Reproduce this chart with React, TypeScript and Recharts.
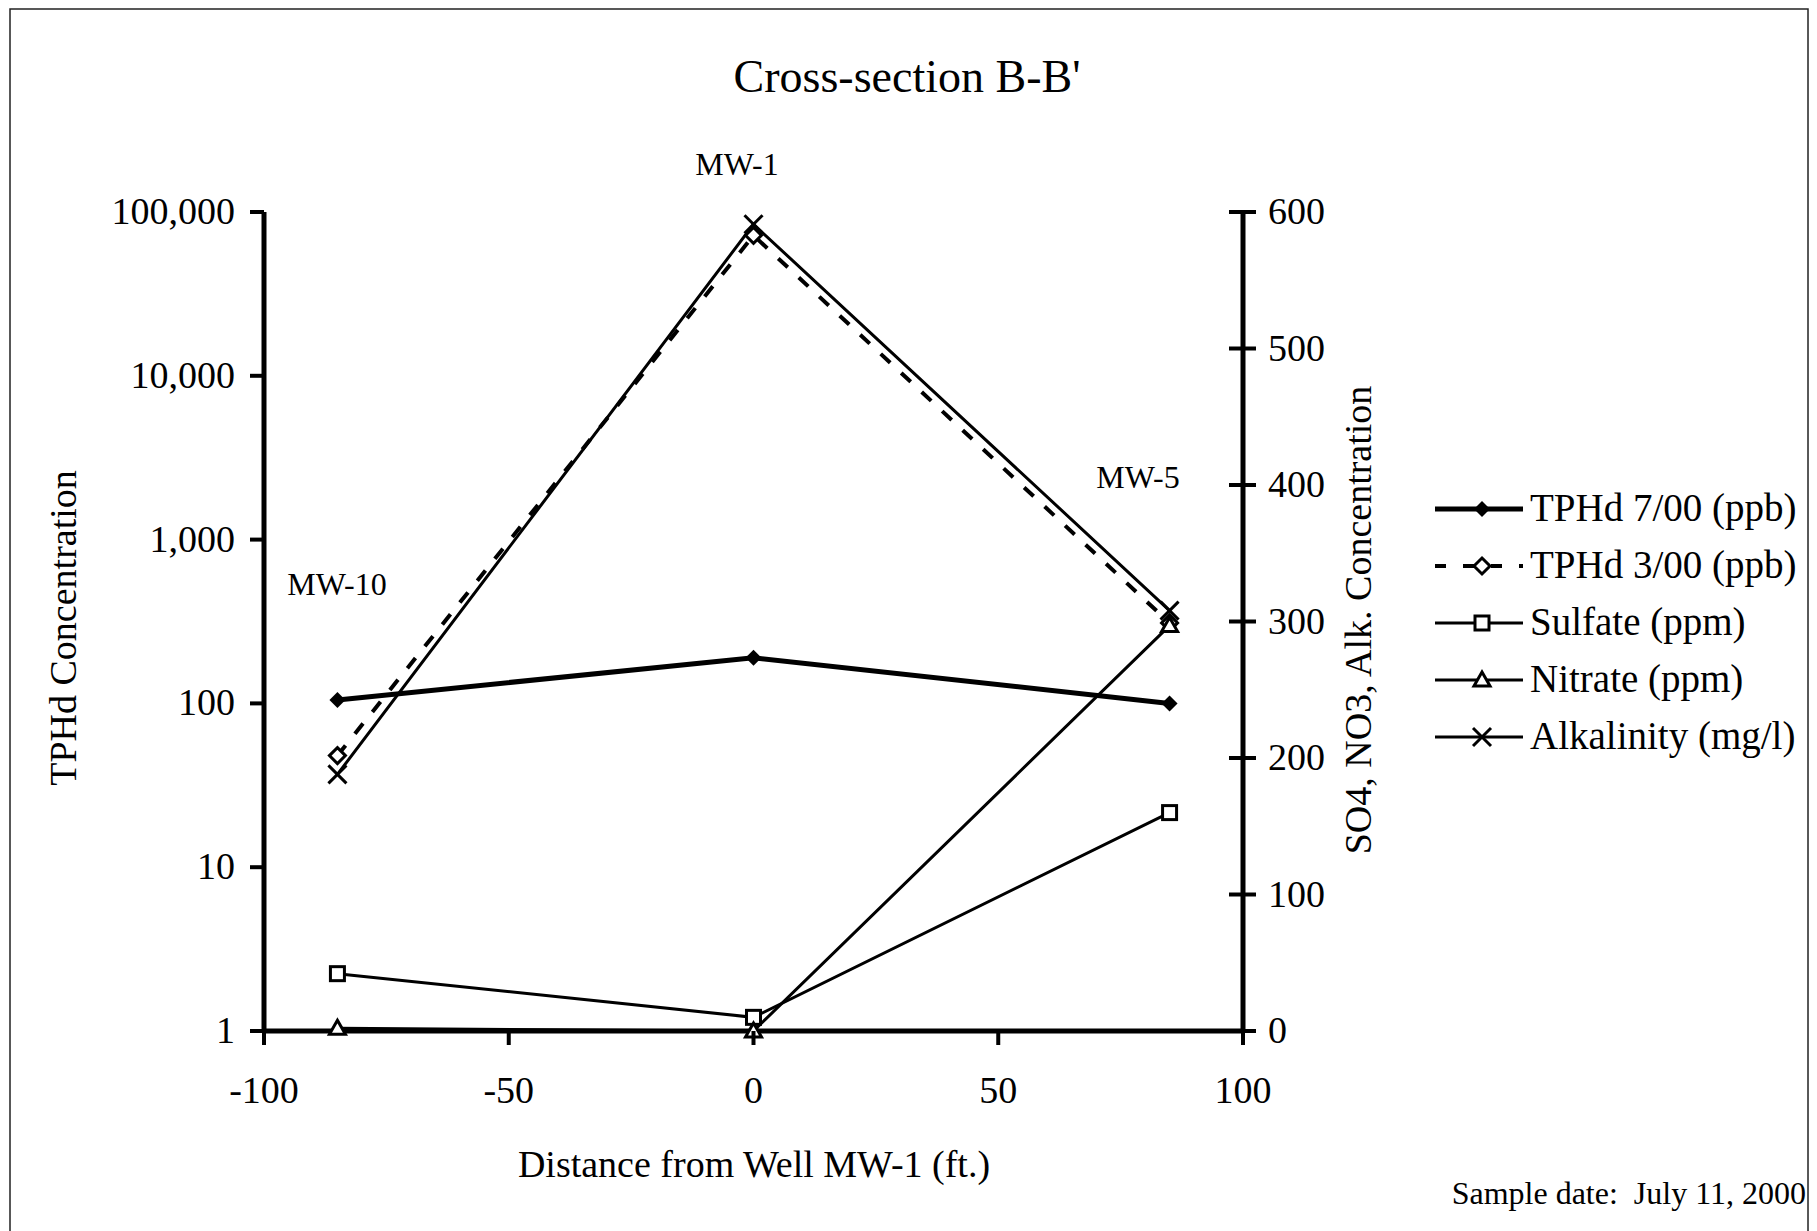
import { ComposedChart, Line, XAxis, YAxis } from 'recharts'

const FONT = '"Liberation Serif", "Times New Roman", serif'

const wells = ['MW-10', 'MW-1', 'MW-5']
const distances = [-85, 0, 85]
const tphdJul = [105, 190, 100]
const tphdMar = [48, 72000, 310]
const sulfate = [42, 10, 160]
const nitrate = [2, 0, 297]
const alkalinity = [188, 591, 308]

const xTicks = [-100, -50, 0, 50, 100]
const leftTicks = [1, 10, 100, 1000, 10000, 100000]
const rightTicks = [0, 100, 200, 300, 400, 500, 600]

const data = distances.map((x, i) => ({
    x,
    well: wells[i],
    tphdJul: tphdJul[i],
    tphdMar: tphdMar[i],
    sulfate: sulfate[i],
    nitrate: nitrate[i],
    alkalinity: alkalinity[i],
}))

type Kind = 'diamond' | 'openDiamond' | 'square' | 'triangle' | 'cross'

const series: { key: string; name: string; axis: string; width: number; dash?: string; kind: Kind }[] = [
    { key: 'tphdJul', name: 'TPHd 7/00 (ppb)', axis: 'left', width: 5, kind: 'diamond' },
    { key: 'tphdMar', name: 'TPHd 3/00 (ppb)', axis: 'left', width: 4, dash: '13 15', kind: 'openDiamond' },
    { key: 'sulfate', name: 'Sulfate (ppm)', axis: 'right', width: 3, kind: 'square' },
    { key: 'nitrate', name: 'Nitrate (ppm)', axis: 'right', width: 3, kind: 'triangle' },
    { key: 'alkalinity', name: 'Alkalinity (mg/l)', axis: 'right', width: 3, kind: 'cross' },
]

function marker(kind: Kind, cx: number, cy: number, key?: string | number) {
    switch (kind) {
        case 'diamond':
            return <path key={key} d={`M${cx},${cy - 8}L${cx + 8},${cy}L${cx},${cy + 8}L${cx - 8},${cy}Z`} fill="#000" />
        case 'openDiamond':
            return <path key={key} d={`M${cx},${cy - 8}L${cx + 8},${cy}L${cx},${cy + 8}L${cx - 8},${cy}Z`} fill="#fff" stroke="#000" strokeWidth={3} />
        case 'square':
            return <rect key={key} x={cx - 7} y={cy - 7} width={14} height={14} fill="#fff" stroke="#000" strokeWidth={3} />
        case 'triangle':
            return <path key={key} d={`M${cx},${cy - 8}L${cx + 8},${cy + 6}L${cx - 8},${cy + 6}Z`} fill="#fff" stroke="#000" strokeWidth={3} />
        case 'cross':
            return (
                <g key={key}>
                    <line x1={cx - 9} y1={cy - 9} x2={cx + 9} y2={cy + 9} stroke="#000" strokeWidth={3} />
                    <line x1={cx - 9} y1={cy + 9} x2={cx + 9} y2={cy - 9} stroke="#000" strokeWidth={3} />
                </g>
            )
    }
}

const LeftTick = (props: any) => {
    const { x, y, payload } = props
    return (
        <g>
            <line x1={x - 14} x2={x} y1={y} y2={y} stroke="#000" strokeWidth={4} />
            <text x={x - 29} y={y + 12} textAnchor="end" fontSize={38} fontFamily={FONT} fill="#000">
                {Number(payload.value).toLocaleString('en-US')}
            </text>
        </g>
    )
}

const RightTick = (props: any) => {
    const { x, y, payload } = props
    return (
        <g>
            <line x1={x - 14} x2={x + 13} y1={y} y2={y} stroke="#000" strokeWidth={4} />
            <text x={x + 25} y={y + 12} textAnchor="start" fontSize={38} fontFamily={FONT} fill="#000">
                {payload.value}
            </text>
        </g>
    )
}

const BottomTick = (props: any) => {
    const { x, y, payload } = props
    return (
        <g>
            <line x1={x} x2={x} y1={y} y2={y + 14} stroke="#000" strokeWidth={4} />
            <text x={x} y={y + 72} textAnchor="middle" fontSize={38} fontFamily={FONT} fill="#000">
                {payload.value}
            </text>
        </g>
    )
}

export default function App() {
    return (
        <div style={{ position: 'absolute', left: 0, top: 0, width: 1817, height: 1231, background: '#fff' }}>
            <ComposedChart
                width={1817}
                height={1231}
                data={data}
                margin={{ top: 212, right: 474, bottom: 120, left: 0 }}
            >
                <XAxis
                    dataKey="x"
                    type="number"
                    domain={[-100, 100]}
                    ticks={xTicks}
                    height={80}
                    axisLine={{ stroke: '#000', strokeWidth: 5 }}
                    tickLine={false}
                    tickSize={0}
                    tickMargin={0}
                    tick={<BottomTick />}
                    interval={0}
                />
                <YAxis
                    yAxisId="left"
                    orientation="left"
                    scale="log"
                    domain={[1, 100000]}
                    allowDataOverflow
                    ticks={leftTicks}
                    width={264}
                    axisLine={{ stroke: '#000', strokeWidth: 5 }}
                    tickLine={false}
                    tickSize={0}
                    tickMargin={0}
                    tick={<LeftTick />}
                    interval={0}
                />
                <YAxis
                    yAxisId="right"
                    orientation="right"
                    domain={[0, 600]}
                    ticks={rightTicks}
                    width={100}
                    axisLine={{ stroke: '#000', strokeWidth: 5 }}
                    tickLine={false}
                    tickSize={0}
                    tickMargin={0}
                    tick={<RightTick />}
                    interval={0}
                />
                {series.map((s) => (
                    <Line
                        key={s.key}
                        yAxisId={s.axis}
                        dataKey={s.key}
                        name={s.name}
                        type="linear"
                        stroke="#000"
                        strokeWidth={s.width}
                        strokeDasharray={s.dash}
                        isAnimationActive={false}
                        dot={(p: any) => marker(s.kind, p.cx, p.cy, `${s.key}-${p.index}`)}
                        activeDot={false}
                    />
                ))}
            </ComposedChart>

            <svg
                width={1817}
                height={1231}
                style={{ position: 'absolute', left: 0, top: 0, pointerEvents: 'none' }}
                fontFamily={FONT}
            >
                <rect x={10} y={9} width={1798} height={1240} fill="none" stroke="#222" strokeWidth={1.5} />
                <text x={907} y={92} textAnchor="middle" fontSize={46}>Cross-section B-B'</text>

                <text x={337} y={595} textAnchor="middle" fontSize={32}>MW-10</text>
                <text x={737} y={175} textAnchor="middle" fontSize={32}>MW-1</text>
                <text x={1138} y={488} textAnchor="middle" fontSize={32}>MW-5</text>

                <text transform="translate(76,628) rotate(-90)" textAnchor="middle" fontSize={38}>TPHd Concentration</text>
                <text transform="translate(1371,620) rotate(-90)" textAnchor="middle" fontSize={38}>SO4, NO3, Alk. Concentration</text>
                <text x={754} y={1177} textAnchor="middle" fontSize={38}>Distance from Well MW-1 (ft.)</text>
                <text x={1806} y={1204} textAnchor="end" fontSize={32} style={{ whiteSpace: 'pre' }}>Sample date:  July 11, 2000</text>

                {series.map((s, i) => {
                    const y = 509 + i * 57
                    return (
                        <g key={s.key}>
                            <line x1={1435} x2={1523} y1={y} y2={y} stroke="#000" strokeWidth={s.width} strokeDasharray={s.dash ? '11 17' : undefined} />
                            {marker(s.kind, 1482, y)}
                            <text x={1530} y={y + 12} fontSize={39}>{s.name}</text>
                        </g>
                    )
                })}
            </svg>
        </div>
    )
}
